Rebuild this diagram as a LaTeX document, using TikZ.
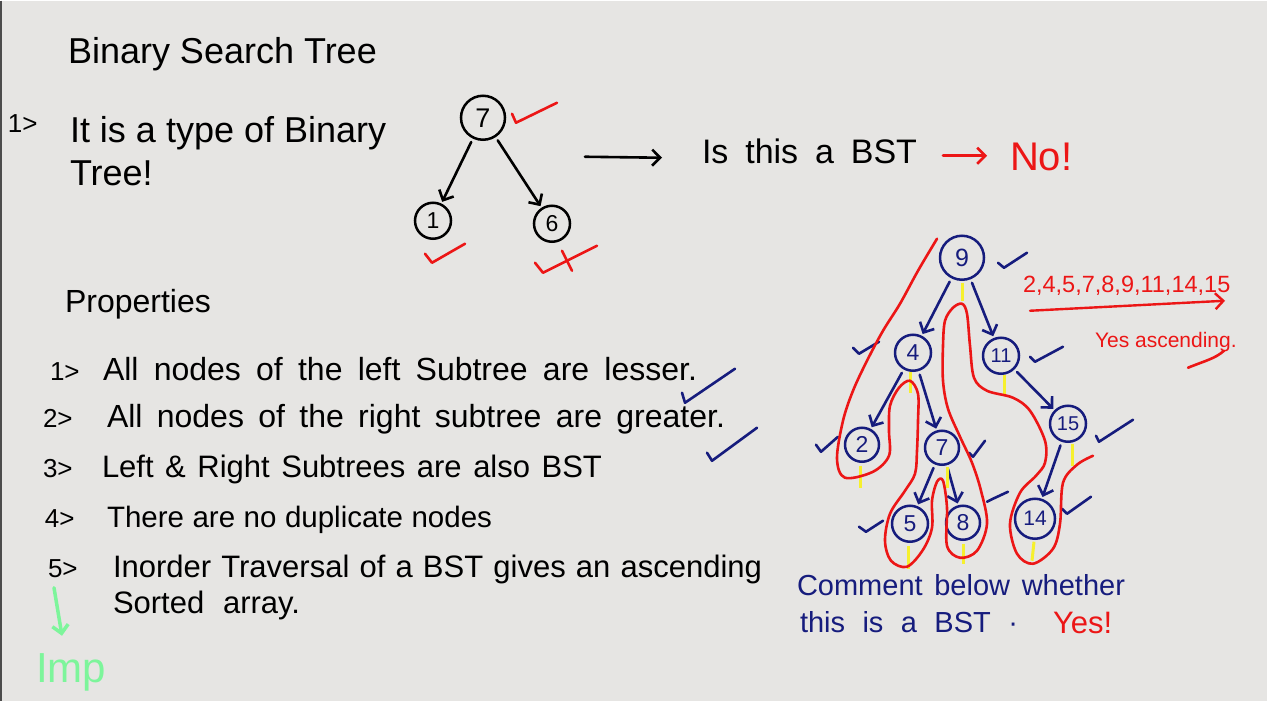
\documentclass[tikz,border=0pt]{standalone}
\usepackage{fontspec}
\setmainfont{Liberation Sans}
\usetikzlibrary{arrows.meta}

\definecolor{board}{RGB}{230,229,227}
\definecolor{inkblue}{RGB}{22,28,125}
\definecolor{inkred}{RGB}{236,22,22}
\definecolor{inkgreen}{RGB}{125,245,155}
\definecolor{inkyellow}{RGB}{246,240,45}

\newcommand{\wbsize}[1]{\fontsize{#1}{#1}\selectfont}

\begin{document}
\begin{tikzpicture}[x=1pt, y=-1pt,
  every node/.style={inner sep=0pt, outer sep=0pt},
  hand/.style={anchor=base west, font=\wbsize{32}},
  num/.style={anchor=base west, font=\wbsize{26}},
  knot/.style={circle, draw, line width=2.5pt, minimum size=#1, font=\wbsize{23}},
  knot/.default=36pt,
  bknot/.style={knot=#1, draw=inkblue, text=inkblue},
  bknot/.default=36pt,
  arr/.style={-{Straight Barb[length=8pt,width=16pt]}, line width=2.6pt,
    line cap=round, shorten <=5pt, shorten >=3pt},
  barr/.style={arr, draw=inkblue},
  rarr/.style={arr, draw=inkred, shorten <=0pt, shorten >=0pt},
  tk/.style={line width=2.6pt, line cap=round, line join=round},
  yel/.style={draw=inkyellow, line width=3pt}
]
  % Board
  \fill[board] (0,0) rectangle (1267,710);
  \fill[white] (0,700) rectangle (1267,710);
  \draw[black!70, line width=1.5pt] (0.75,0) -- (0.75,700);
  \useasboundingbox (0,0) rectangle (1267,710);

  % Heading
  \node[hand, font=\wbsize{36}] (title) at (68,63) {Binary Search Tree};
  \node[num] (p0) at (8,132) {1>};
  \node[hand, font=\wbsize{36}] (def1) at (70,142) {It is a type of Binary};
  \node[hand, font=\wbsize{36}] (def2) at (70,185) {Tree!};

  % Small tree
  \node[knot=44pt, font=\wbsize{27}] (t7) at (483,117) {7};
  \node[knot] (t1) at (433,220) {1};
  \node[knot] (t6) at (552,223) {6};
  \draw[arr] (t7) -- (t1);
  \draw[arr] (t7) -- (t6);
  \draw[tk, inkred] (512,113) -- (516,122) -- (557,102);
  \draw[tk, inkred] (425,253) -- (432,262) -- (465,243);
  \draw[tk, inkred] (535,262) -- (543,272) -- (597,245);
  \draw[tk, inkred] (562,250) -- (572,270);

  % Question
  \coordinate (q1) at (585,156);
  \coordinate (q2) at (662,157);
  \draw[arr, shorten <=0pt, shorten >=0pt] (q1) -- (q2);
  \node[hand, font=\wbsize{34}] (ask) at (702,163)
    {\makebox[215pt][s]{Is this a BST}};
  \coordinate (r1) at (943,155);
  \coordinate (r2) at (987,155);
  \draw[rarr] (r1) -- (r2);
  \node[hand, font=\wbsize{40}, text=inkred] (no) at (1010,170) {No!};

  % Properties
  \node[hand] (prop) at (65,312) {Properties};
  \node[num] (n1) at (50,380) {1>};
  \node[hand] (i1) at (103,380)
    {\makebox[594pt][s]{All nodes of the left Subtree are lesser.}};
  \node[num] (n2) at (43,427) {2>};
  \node[hand] (i2) at (107,427)
    {\makebox[618pt][s]{All nodes of the right subtree are greater.}};
  \node[num] (n3) at (43,477) {3>};
  \node[hand, font=\wbsize{31}] (i3) at (102,477)
    {\makebox[500pt][s]{Left \& Right Subtrees are also BST}};
  \node[num] (n4) at (45,527) {4>};
  \node[hand, font=\wbsize{29.5}] (i4) at (107,527)
    {\makebox[385pt][s]{There are no duplicate nodes}};
  \node[num] (n5) at (48,577) {5>};
  \node[hand, font=\wbsize{31}] (i5) at (113,577)
    {\makebox[649pt][s]{Inorder Traversal of a BST gives an ascending}};
  \node[hand, font=\wbsize{31}] (i5b) at (113,613)
    {\makebox[187pt][s]{Sorted array.}};
  \draw[tk, inkblue] (682,392) -- (685,402) -- (735,368);
  \draw[tk, inkblue] (707,452) -- (712,460) -- (757,427);

  % Imp
  \coordinate (g1) at (54,587);
  \coordinate (g2) at (62,635);
  \draw[arr, draw=inkgreen, line width=3.5pt, shorten <=0pt, shorten >=0pt] (g1) -- (g2);
  \node[hand, font=\wbsize{42}, text=inkgreen] (imp) at (36,682) {Imp};

  % Big tree
  \node[bknot=44pt, font=\wbsize{25}] (b9) at (962,257) {9};
  \node[bknot] (b4) at (913,352) {4};
  \node[bknot, font=\wbsize{20}] (b11) at (1001,355) {11};
  \node[bknot=34pt] (b2) at (862,444) {2};
  \node[bknot=34pt] (b7) at (942,447) {7};
  \node[bknot, font=\wbsize{20}] (b15) at (1068,423) {15};
  \node[bknot] (b5) at (910,523) {5};
  \node[bknot=34pt] (b8) at (963,522) {8};
  \node[bknot=40pt, font=\wbsize{21}] (b14) at (1035,518) {14};
  \draw[barr] (b9) -- (b4);
  \draw[barr] (b9) -- (b11);
  \draw[barr] (b4) -- (b2);
  \draw[barr] (b4) -- (b7);
  \draw[barr] (b11) -- (b15);
  \draw[barr] (b7) -- (b5);
  \draw[barr] (b7) -- (b8);
  \draw[barr] (b15) -- (b14);

  % Inorder marks
  \draw[yel] (962,282) -- (962,300);
  \draw[yel] (910,371) -- (910,392);
  \draw[yel] (1004,374) -- (1004,393);
  \draw[yel] (860,465) -- (860,487);
  \draw[yel] (947,466) -- (947,487);
  \draw[yel] (1072,443) -- (1072,465);
  \draw[yel] (908,545) -- (908,568);
  \draw[yel] (963,543) -- (963,563);
  \draw[yel] (1034,541) -- (1032,560);

  % Blue ticks
  \draw[tk, inkblue] (998,262) -- (1004,267) -- (1027,252);
  \draw[tk, inkblue] (853,347) -- (859,353) -- (879,341);
  \draw[tk, inkblue] (1030,356) -- (1035,361) -- (1063,346);
  \draw[tk, inkblue] (816,444) -- (821,451) -- (838,436);
  \draw[tk, inkblue] (969,452) -- (973,456) -- (985,440);
  \draw[tk, inkblue] (1096,435) -- (1099,441) -- (1133,419);
  \draw[tk, inkblue] (859,526) -- (866,531) -- (883,520);
  \draw[tk, inkblue] (987,501) -- (993,498) -- (1008,491);
  \draw[tk, inkblue] (1062,508) -- (1067,513) -- (1091,496);

  % Traversal outline
  \draw[inkred, line width=2.6pt, line cap=round, line join=round]
    plot[smooth, tension=0.55] coordinates {
      (937,238) (918,270) (900,303) (883,330) (867,360) (853,390)
      (843,420) (837,458) (845,477) (873,471) (889,455) (889,430)
      (890,405) (899,387) (910,380) (918,393) (918,420) (917,450)
      (915,473) (905,490) (890,513) (885,540) (891,560) (907,566)
      (923,549) (932,527) (932,500) (937,481) (943,480) (947,507)
      (947,545) (960,557) (977,550) (987,523) (981,490) (972,462)
      (960,436) (948,408) (943,380) (943,345) (945,320) (953,307)
      (962,303) (967,313) (970,345) (974,377) (987,390) (1013,397)
      (1030,410) (1045,440) (1045,462) (1036,475) (1020,492)
      (1010,523) (1017,553) (1033,563) (1053,548) (1060,523)
      (1063,482) (1077,464) (1093,455)};

  % Inorder result
  \node[hand, font=\wbsize{23.5}, text=inkred] (seq) at (1023,292) {2,4,5,7,8,9,11,14,15};
  \coordinate (s1) at (1030,310);
  \coordinate (s2) at (1225,300);
  \draw[rarr, line width=2.4pt] (s1) -- (s2);
  \node[hand, font=\wbsize{21}, text=inkred] (asc) at (1095,347) {Yes ascending.};
  \draw[tk, inkred] (1188,367) .. controls (1205,360) and (1215,358) .. (1224,350);

  % Question for viewers
  \node[hand, font=\wbsize{29}, text=inkblue] (cm1) at (797,595)
    {\makebox[328pt][s]{Comment below whether}};
  \node[hand, font=\wbsize{29}, text=inkblue] (cm2) at (800,632)
    {\makebox[218pt][s]{this is a BST ·}};
  \node[hand, font=\wbsize{31}, text=inkred] (yes) at (1053,633) {Yes!};

\end{tikzpicture}
\end{document}
